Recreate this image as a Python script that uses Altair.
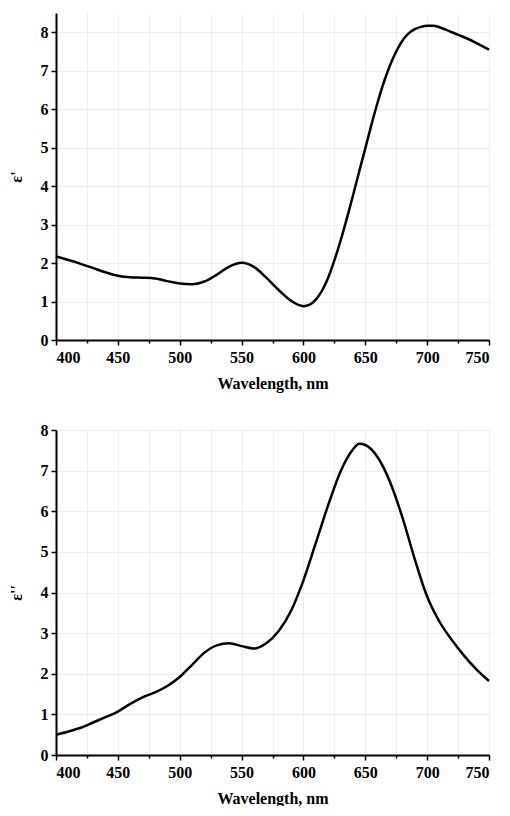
import altair as alt
import pandas as pd

# Top panel: real part of permittivity
wl_top = [400, 410, 420, 430, 440, 450, 460, 470, 480, 490, 500, 510, 520, 530, 540, 550,
          555, 560, 570, 580, 590, 600, 605, 610, 615, 620, 625, 630, 635, 640, 645, 650,
          655, 660, 665, 670, 675, 680, 685, 690, 695, 700, 705, 710, 715, 720, 730, 740, 750]
eps_real = [2.17, 2.08, 1.98, 1.87, 1.76, 1.67, 1.63, 1.62, 1.60, 1.53, 1.47, 1.45, 1.52, 1.70, 1.91, 2.01,
            1.98, 1.90, 1.62, 1.30, 1.02, 0.88, 0.92, 1.05, 1.28, 1.62, 2.07, 2.58, 3.15, 3.75, 4.37, 4.98,
            5.60, 6.18, 6.70, 7.14, 7.50, 7.78, 7.97, 8.08, 8.14, 8.17, 8.17, 8.13, 8.07, 8.00, 7.87, 7.72, 7.55]

# Bottom panel: imaginary part of permittivity
wl_bot = [400, 410, 420, 430, 440, 450, 460, 470, 480, 490, 500, 510, 520, 530, 540, 550,
          560, 570, 580, 590, 600, 610, 620, 630, 640, 645, 650, 660, 670, 680, 690, 700,
          710, 720, 730, 740, 750]
eps_imag = [0.50, 0.58, 0.67, 0.80, 0.93, 1.07, 1.26, 1.42, 1.54, 1.70, 1.92, 2.22, 2.52, 2.70, 2.75, 2.68,
            2.62, 2.75, 3.05, 3.55, 4.30, 5.22, 6.15, 6.98, 7.52, 7.66, 7.63, 7.33, 6.72, 5.85, 4.82, 3.90,
            3.28, 2.83, 2.44, 2.10, 1.82]

x_ticks = list(range(400, 751, 25))
y_ticks = [i * 0.5 for i in range(0, 17)]

FONT = "'Liberation Serif', 'Times New Roman', serif"

def panel(wl, vals, ytitle, ymax, h):
    df = pd.DataFrame({"wl": wl, "v": vals})
    x_axis = alt.Axis(
        title="Wavelength, nm", values=x_ticks,
        labelExpr="datum.value % 50 === 0 ? datum.label : ''",
        tickSize={"condition": {"test": "datum.value % 50 === 0", "value": 5}, "value": 3},
        labelPadding=4, titlePadding=10,
    )
    y_axis = alt.Axis(
        title=ytitle, values=y_ticks, format="d",
        labelExpr="datum.value % 1 === 0 ? datum.label : ''",
        tickSize={"condition": {"test": "datum.value % 1 === 0", "value": 5}, "value": 3},
        labelPadding=3, titlePadding=16,
    )
    return alt.Chart(df).mark_line(color="black", strokeWidth=2.5, interpolate="monotone").encode(
        x=alt.X("wl:Q", scale=alt.Scale(domain=[400, 750], nice=False, zero=False), axis=x_axis),
        y=alt.Y("v:Q", scale=alt.Scale(domain=[0, ymax], nice=False), axis=y_axis),
    ).properties(width=433, height=h)

top = panel(wl_top, eps_real, "ε'", 8.5, 327)
bot = panel(wl_bot, eps_imag, "ε''", 8, 325)

chart = alt.vconcat(top, bot, spacing=31).properties(
    padding={"left": 0, "top": 5, "right": 0, "bottom": 0}
).configure_view(stroke=None).configure_axis(
    domainColor="black", domainWidth=2, tickColor="black", tickWidth=1.5,
    gridColor="#e9e9e9", gridWidth=0.8,
    labelFont=FONT, labelFontSize=16, labelFontWeight="bold", labelColor="black",
    titleFont=FONT, titleFontSize=16, titleFontWeight="bold", titleColor="black",
)

chart.save("out.html", embed_options={"renderer": "svg", "actions": False})
